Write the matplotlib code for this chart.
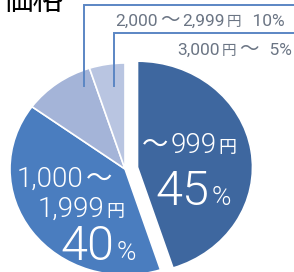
import matplotlib
matplotlib.use("Agg")
import matplotlib.pyplot as plt

# ---- data ----
categories = ['～999円', '1,000～1,999円', '2,000～2,999円', '3,000円～']
shares = [45, 40, 10, 5]
slice_colors = ['#3e679f', '#4a7dbf', '#a4b4d8', '#b9c5e1']
title = '価格'

W, H = 294, 272
fig = plt.figure(figsize=(W / 100, H / 100), dpi=100)
ax = fig.add_axes([0, 0, 1, 1])

cx, cy, rx, ry = 125, 169, 115, 106   # pie centre / radii in pixels

ax.pie(shares, colors=slice_colors, startangle=90, counterclock=False,
       explode=[0.11, 0, 0, 0],
       wedgeprops=dict(edgecolor='white', linewidth=1.2))
ax.set_aspect('auto')
ax.set_xlim(-cx / rx, (W - cx) / rx)
ax.set_ylim((cy - H) / ry, cy / ry)
ax.axis('off')


def d(px, py):
    return (px - cx) / rx, (cy - py) / ry


# leader lines
line_col = '#5b86c4'
for pts in ([(84, 86), (84, 5), (300, 5)], [(114, 86), (114, 33), (300, 33)]):
    xs, ys = zip(*[d(*p) for p in pts])
    ax.plot(xs, ys, color=line_col, lw=1.4, clip_on=False, solid_joinstyle='miter')

renderer = fig.canvas.get_renderer()
JP = 'Noto Sans CJK JP'


def is_cjk(s):
    return any(ord(c) > 0x2000 for c in s)


def rich(x_px, y_px, parts, color, numfont, numweight, gap=2.0):
    x = x_px
    for s, size in parts:
        if is_cjk(s):
            fam, wt = JP, 'normal'
        else:
            fam, wt = numfont, numweight
        t = fig.text(x / W, 1 - y_px / H, s, fontsize=size, color=color,
                     family=fam, weight=wt, ha='left', va='baseline')
        bb = t.get_window_extent(renderer)
        x += bb.width + gap


# title (cropped at top)
fig.text(2 / W, 1 - 10 / H, title, fontsize=22, color='black',
         family=JP, ha='left', va='baseline')

# outside labels
out_col = '#6b7584'
lab2 = categories[2].split('～')
lab3 = categories[3].replace('円～', '')
rich(115, 26, [(lab2[0], 12.5), ('～', 14), (lab2[1].rstrip('円'), 12.5), ('円', 10.5),
               (f'  {shares[2]}%', 12.5)], out_col, 'Roboto', 'normal', gap=2.5)
rich(177, 55, [(lab3, 12.5), ('円', 10.5), ('～', 14), (f'  {shares[3]}%', 12.5)],
     out_col, 'Roboto', 'normal', gap=2.5)

# inside labels
wc = 'white'
nf, nw = 'Roboto', 300
rich(142, 153, [('～', 19), ('999', 20), ('円', 13)], wc, nf, nw)
rich(155, 205, [(f'{shares[0]}', 35), ('%', 19)], wc, nf, nw, gap=3)
rich(17, 187, [('1,000', 20), ('～', 19)], wc, nf, nw)
rich(38, 217, [('1,999', 20), ('円', 13)], wc, nf, nw)
rich(60, 260, [(f'{shares[1]}', 35), ('%', 19)], wc, nf, nw, gap=3)

fig.savefig('out.png', dpi=100)
